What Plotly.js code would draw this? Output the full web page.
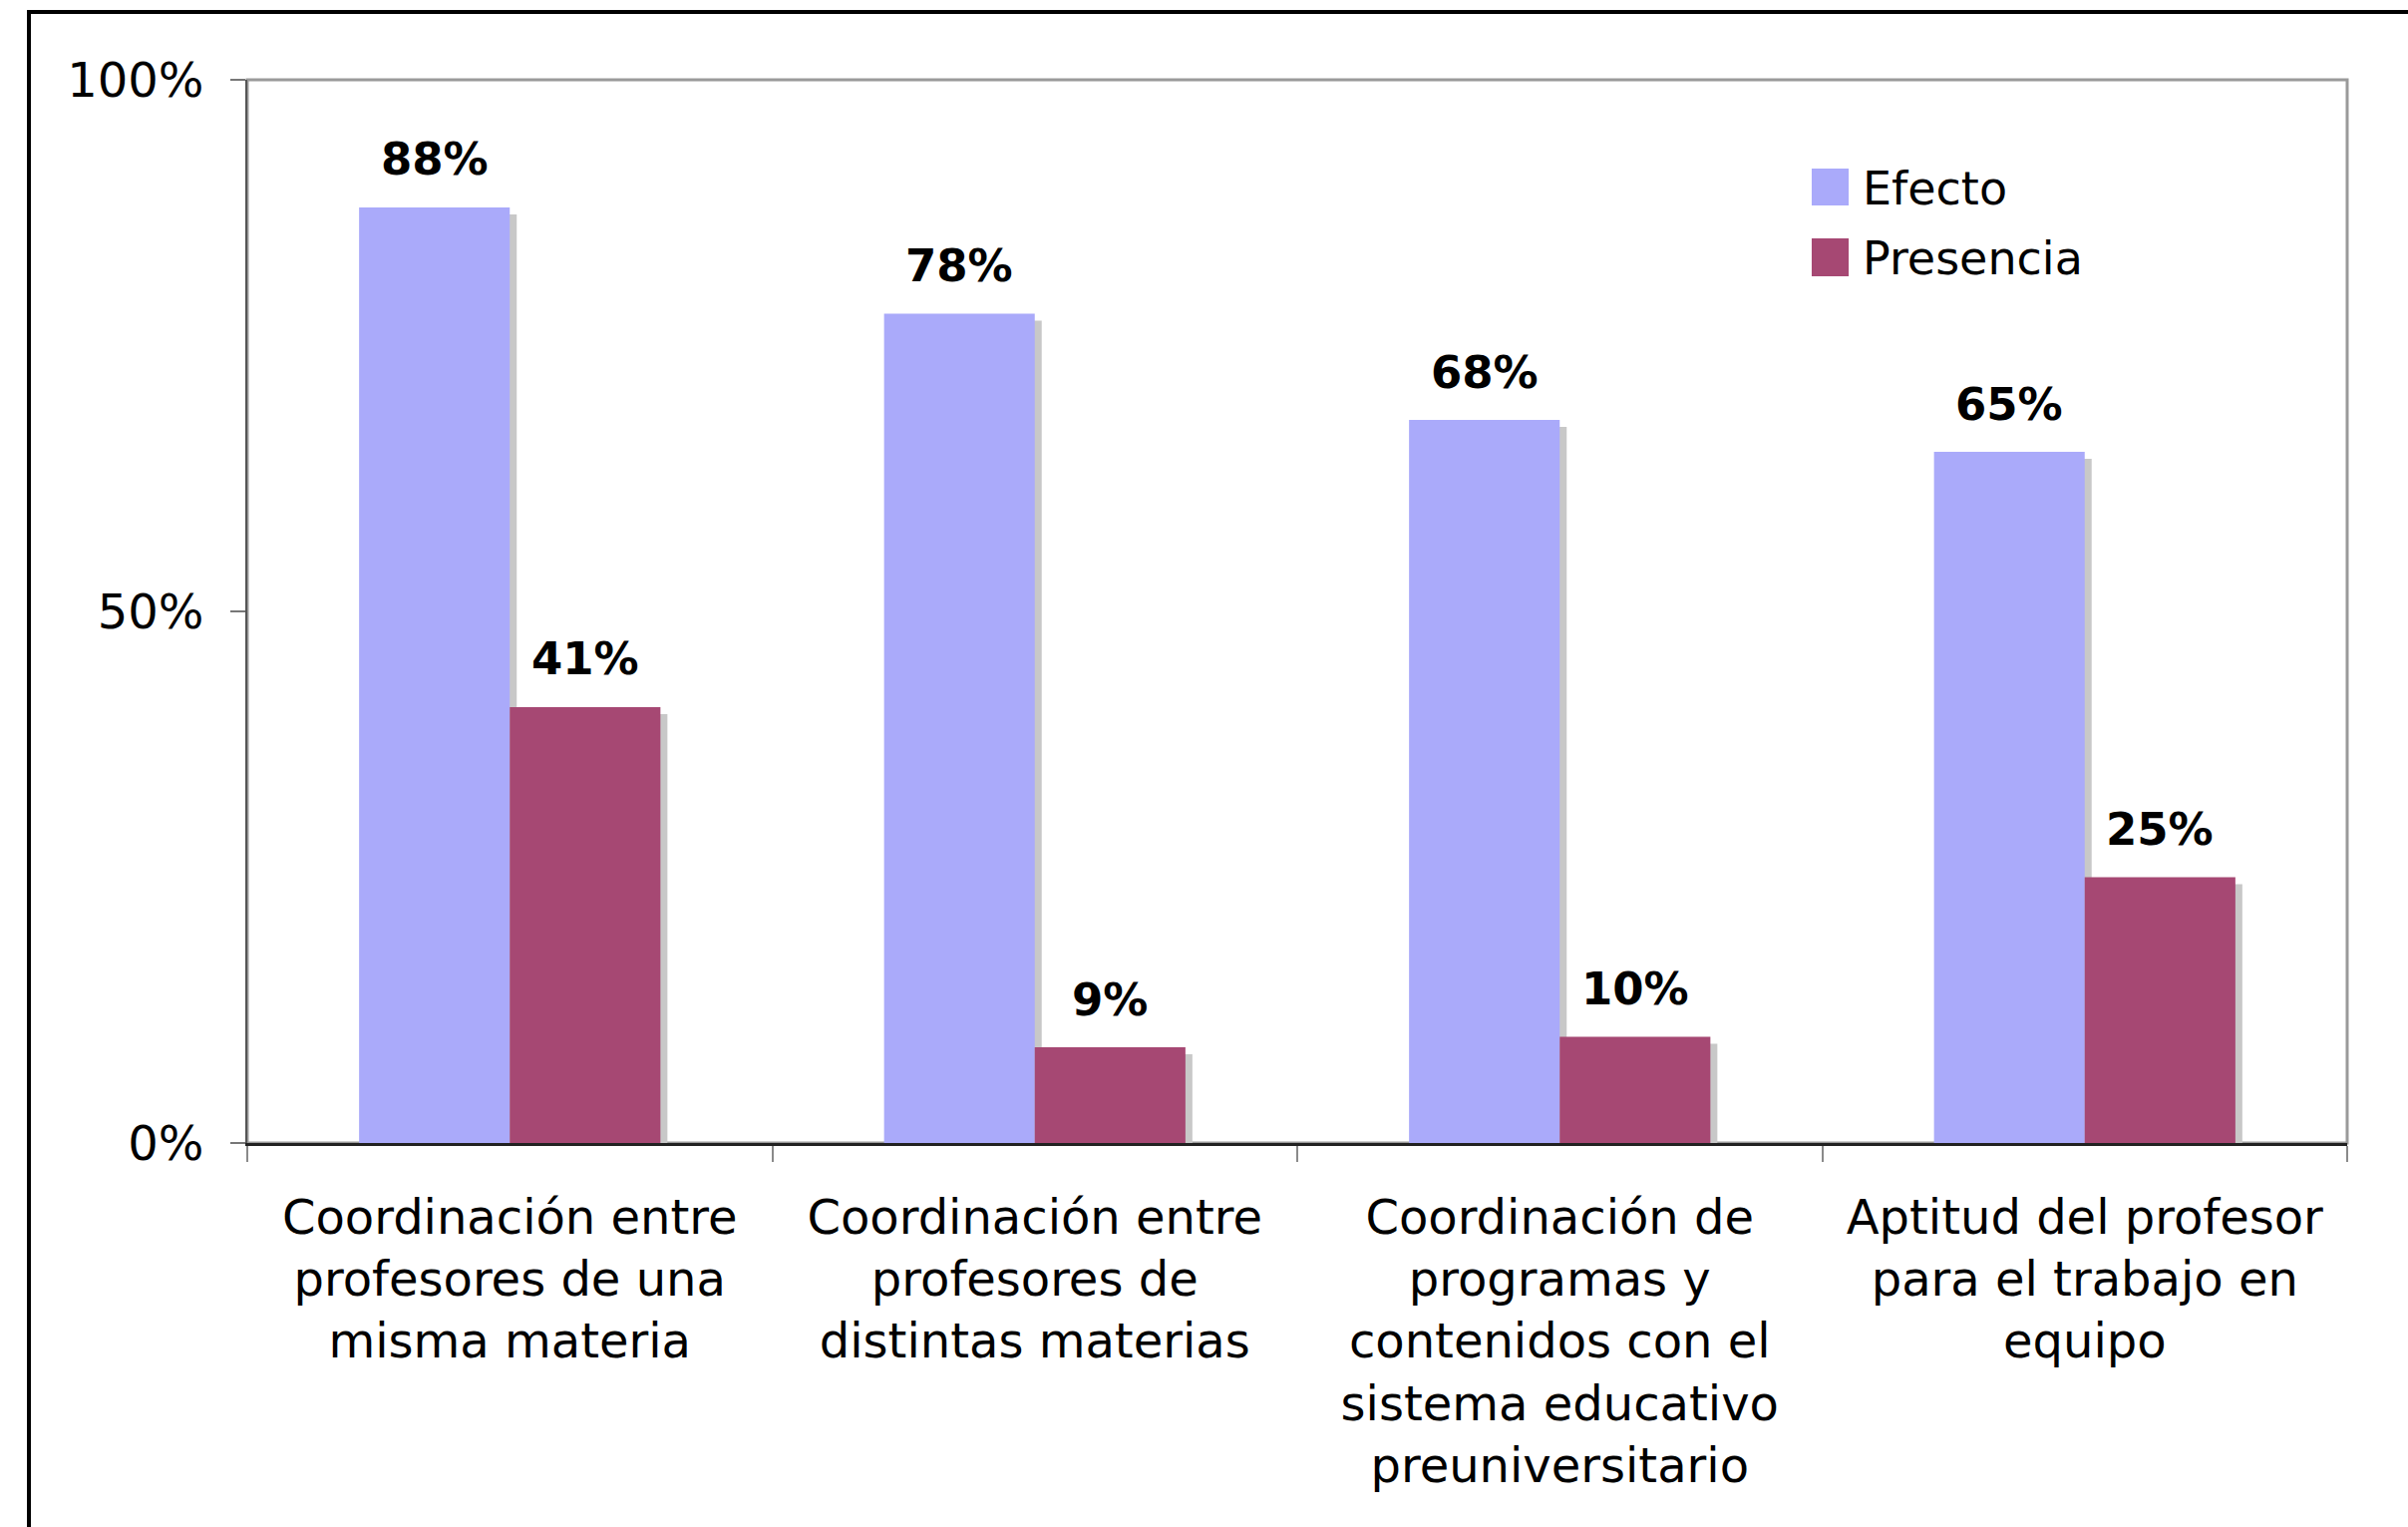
<!DOCTYPE html>
<html>
<head>
<meta charset="utf-8">
<script src="https://cdn.plot.ly/plotly-3.0.1.min.js"></script>
<style>
  html, body { margin: 0; padding: 0; background: #ffffff; }
  #wrap { position: relative; width: 2415px; height: 1531px; overflow: hidden; }
  #chart { position: absolute; left: 0; top: 0; width: 2415px; height: 1531px; }
  #frame { position: absolute; left: 27px; top: 10px; width: 3000px; height: 3000px;
           border-left: 4px solid #000; border-top: 4px solid #000; pointer-events: none; }
  #chart .barlayer .point path { filter: drop-shadow(7px 7px 0 #c8c8c8); }
</style>
</head>
<body>
<div id="wrap">
  <div id="chart"></div>
  <div id="frame"></div>
</div>
<script>
// ---- data ----
const categories = [
  "Coordinación entre profesores de una misma materia",
  "Coordinación entre profesores de distintas materias",
  "Coordinación de programas y contenidos con el sistema educativo preuniversitario",
  "Aptitud del profesor para el trabajo en equipo"
];
const tickLabels = [
  "Coordinación entre<br>profesores de una<br>misma materia",
  "Coordinación entre<br>profesores de<br>distintas materias",
  "Coordinación de<br>programas y<br>contenidos con el<br>sistema educativo<br>preuniversitario",
  "Aptitud del profesor<br>para el trabajo en<br>equipo"
];
const efecto = [88, 78, 68, 65];
const presencia = [41, 9, 10, 25];
const seriesNames = ["Efecto", "Presencia"];
const yTickVals = [0, 50, 100];
const yTickText = ["0%", "50%", "100%"];

// ---- styles ----
const colors = ["#aaaafa", "#a64873"];
const FONT = "DejaVu Sans, Verdana, sans-serif";
const BARGAP = 0.426;
const half = (1 - BARGAP) / 4; // centre offset of each bar in a group

const traces = [efecto, presencia].map((vals, k) => ({
  type: "bar",
  name: seriesNames[k],
  x: categories,
  y: vals,
  marker: { color: colors[k], line: { width: 0 } },
  hoverinfo: "skip",
  showlegend: false
}));

const annotations = [];
[efecto, presencia].forEach((vals, k) => {
  vals.forEach((v, i) => {
    annotations.push({
      xref: "x", yref: "y",
      x: i + (k === 0 ? -half : half),
      y: v,
      text: "<b>" + v + "%</b>",
      showarrow: false,
      xanchor: "center", yanchor: "middle",
      yshift: 48,
      font: { family: FONT, size: 45, color: "#000" }
    });
  });
});

// manual legend (large swatches like the original)
const legendPos = [
  { y0: 0.8818, y1: 0.9165, ty: 0.8975 },
  { y0: 0.8152, y1: 0.8508, ty: 0.8320 }
];
const shapes = [
  { type: "rect", xref: "paper", yref: "paper", x0: 0, x1: 1, y0: 0, y1: 1,
    line: { color: "#9a9a9a", width: 3 }, layer: "below" }
];
seriesNames.forEach((n, k) => {
  shapes.push({ type: "rect", xref: "paper", yref: "paper",
    x0: 0.745, x1: 0.7626, y0: legendPos[k].y0, y1: legendPos[k].y1,
    fillcolor: colors[k], line: { width: 0 } });
  annotations.push({ xref: "paper", yref: "paper", x: 0.7685, y: legendPos[k].ty,
    xanchor: "left", yanchor: "middle", text: n, showarrow: false,
    font: { family: FONT, size: 46, color: "#000" } });
});

const layout = {
  width: 2415, height: 1531,
  margin: { l: 248, r: 61, t: 80, b: 385, pad: 0 },
  paper_bgcolor: "rgba(0,0,0,0)",
  plot_bgcolor: "rgba(0,0,0,0)",
  font: { family: FONT, size: 48, color: "#000" },
  barmode: "group",
  bargap: BARGAP,
  bargroupgap: 0,
  showlegend: false,
  xaxis: {
    type: "category",
    tickvals: categories,
    ticktext: tickLabels,
    tickson: "boundaries",
    ticks: "outside", ticklen: 16, tickwidth: 2, tickcolor: "#8a8a8a",
    showline: true, linecolor: "#222", linewidth: 3,
    showgrid: false, zeroline: false,
    ticklabelstandoff: 30,
    tickfont: { family: FONT, size: 48, color: "#000" },
    fixedrange: true
  },
  yaxis: {
    range: [0, 100],
    tickvals: yTickVals,
    ticktext: yTickText,
    ticks: "outside", ticklen: 15, tickwidth: 2, tickcolor: "#777",
    showline: true, linecolor: "#555", linewidth: 2,
    showgrid: false, zeroline: false,
    ticklabelstandoff: 17,
    tickfont: { family: FONT, size: 48, color: "#000" },
    fixedrange: true
  },
  shapes: shapes,
  annotations: annotations
};

Plotly.newPlot("chart", traces, layout, { displayModeBar: false, staticPlot: true });
</script>
</body>
</html>
